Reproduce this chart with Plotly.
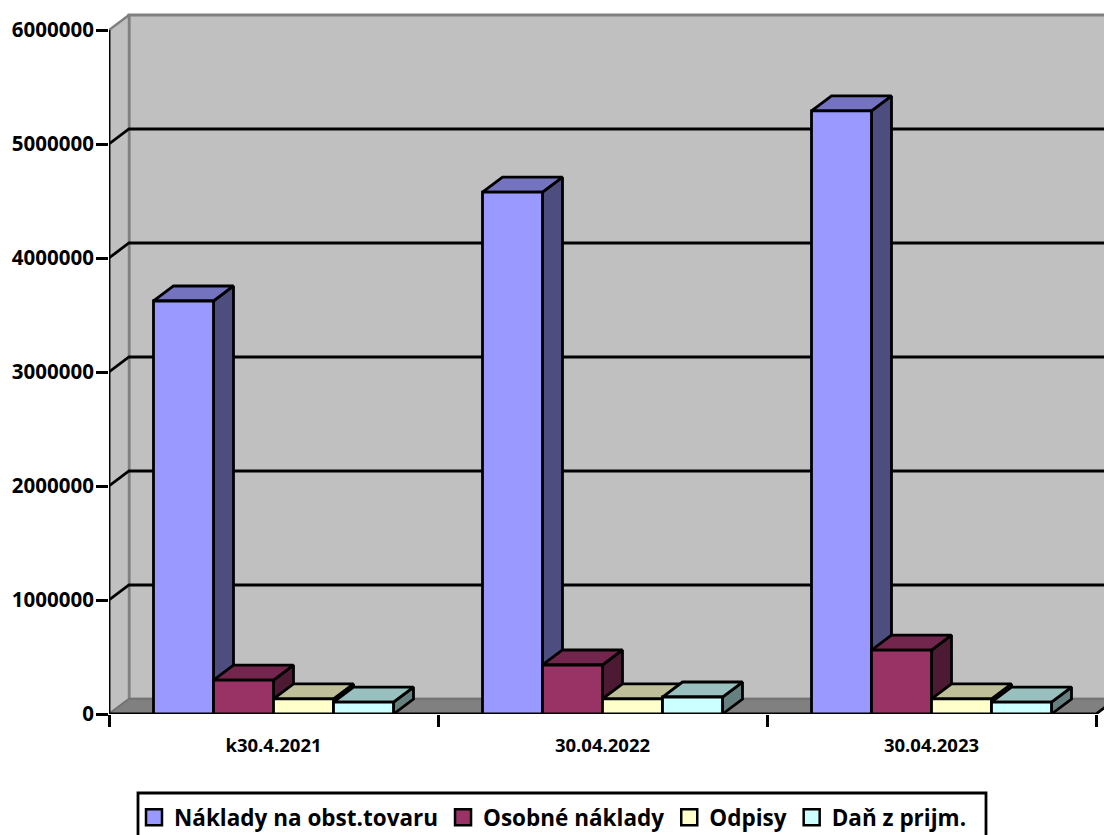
import plotly.graph_objects as go

categories = ["k30.4.2021", "30.04.2022", "30.04.2023"]
series_names = ["Náklady na obst.tovaru", "Osobné náklady", "Odpisy", "Daň z prijm."]
naklady = [3623000, 4577000, 5290000]
osobne = [298000, 430000, 561000]
odpisy = [132000, 132000, 132000]
dan = [105000, 149000, 105000]
y_ticks = [0, 1000000, 2000000, 3000000, 4000000, 5000000, 6000000]

series_values = [naklady, osobne, odpisy, dan]
front_colors = ["#9999FF", "#993366", "#FFFFCC", "#CCFFFF"]
top_colors = ["#7373BF", "#73264D", "#BFBF99", "#99BFBF"]
side_colors = ["#4D4D80", "#4D1A33", "#808066", "#668080"]

W, H = 1104, 835
L, T, B = 109, 10, 714
PX_CAT = 329.0
PX_Y = 114.0 / 1e6
X_MAX = (W - L) / PX_CAT
Y_MAX = (B - T) / PX_Y
DX = 20 / PX_CAT
DY = 15 / PX_Y
BAR_W = 60 / PX_CAT
GAP = 1 - 4 * BAR_W
LW = 2.8


def py(px):
    return (B - px) / (B - T)


def px_x(px):
    return (px - L) / (W - L)


fig = go.Figure()

# walls and floor
fig.add_trace(go.Scatter(x=[DX, 3 + DX + 1, 3 + DX + 1, DX, DX], y=[DY, DY, 6e6 + DY, 6e6 + DY, DY],
                         mode="lines", fill="toself", fillcolor="#C0C0C0",
                         line=dict(color="#808080", width=3), showlegend=False, hoverinfo="skip"))
fig.add_trace(go.Scatter(x=[0, DX, DX, 0, 0], y=[0, DY, 6e6 + DY, 6e6, 0],
                         mode="lines", fill="toself", fillcolor="#C0C0C0",
                         line=dict(color="#808080", width=2.5), showlegend=False, hoverinfo="skip",
                         cliponaxis=False))
fig.add_trace(go.Scatter(x=[0, 3, 3 + DX, DX, 0], y=[0, 0, DY, DY, 0],
                         mode="lines", fill="toself", fillcolor="#808080",
                         line=dict(color="#707070", width=1.5), showlegend=False, hoverinfo="skip"))

# gridlines on the walls
gx, gy = [], []
for v in y_ticks[1:-1]:
    gx += [0, DX, 3 + DX + 1, None]
    gy += [v, v + DY, v + DY, None]
fig.add_trace(go.Scatter(x=gx, y=gy, mode="lines", line=dict(color="black", width=LW),
                         showlegend=False, hoverinfo="skip"))

# axis lines and end diagonal
fig.add_trace(go.Scatter(x=[0, 0, None, 0, 3, 3 + DX], y=[0, 6e6, None, 0, 0, DY], mode="lines",
                         line=dict(color="black", width=LW), showlegend=False, hoverinfo="skip",
                         cliponaxis=False))

# 3D faces of each bar, derived from the values
for s, vals in enumerate(series_values):
    sx, sy, tx, ty = [], [], [], []
    for c, v in enumerate(vals):
        left = c + GAP / 2 + s * BAR_W
        right = left + BAR_W
        sx += [right, right + DX, right + DX, right, right, None]
        sy += [0, DY, v + DY, v, 0, None]
        tx += [left, left + DX, right + DX, right, left, None]
        ty += [v, v + DY, v + DY, v, v, None]
    for xs, ys, col in ((sx, sy, side_colors[s]), (tx, ty, top_colors[s])):
        fig.add_trace(go.Scatter(x=xs, y=ys, mode="lines", fill="toself", fillcolor=col,
                                 line=dict(color="black", width=LW), showlegend=False,
                                 hoverinfo="skip"))

# front faces on an overlaying subplot, so they sit above all side faces
for s, vals in enumerate(series_values):
    fig.add_trace(go.Bar(x=[0.5, 1.5, 2.5], y=vals, name=series_names[s], xaxis="x2", yaxis="y2",
                         marker=dict(color=front_colors[s], line=dict(color="black", width=LW)),
                         showlegend=False))

# legend entries
for s, name in enumerate(series_names):
    fig.add_trace(go.Scatter(x=[None], y=[None], mode="markers", name=name,
                             marker=dict(symbol="square", size=16, color=front_colors[s],
                                         line=dict(color="black", width=2.5))))

FONT = "Open Sans"
axis_common = dict(showgrid=False, zeroline=False)
fig.update_layout(
    width=W, height=H,
    margin=dict(l=L, r=0, t=T, b=H - B, autoexpand=False),
    paper_bgcolor="white", plot_bgcolor="white",
    barmode="group", bargap=GAP, bargroupgap=0,
    font=dict(family=FONT, color="black"),
    xaxis=dict(range=[0, X_MAX], tickvals=[0.5, 1.5, 2.5], ticktext=categories, ticks="",
               tickfont=dict(family=FONT, size=18.5, weight="bold"), ticklabelstandoff=18,
               minor=dict(tickvals=[0, 1, 2, 3], ticks="outside", ticklen=12, tickwidth=LW,
                          tickcolor="black"),
               **axis_common),
    yaxis=dict(range=[0, Y_MAX], tickvals=y_ticks, ticks="outside", ticklen=12, tickwidth=LW,
               tickcolor="black", tickformat="d", ticklabelstandoff=-2,
               tickfont=dict(family=FONT, size=20.5, weight="bold"),
               **axis_common),
    xaxis2=dict(range=[0, X_MAX], overlaying="x", anchor="y2", visible=False),
    yaxis2=dict(range=[0, Y_MAX], overlaying="y", anchor="x2", visible=False),
    legend=dict(orientation="h", x=px_x(134), y=py(796), xanchor="left", yanchor="top",
                font=dict(family=FONT, size=22.5, weight="bold"), bgcolor="rgba(0,0,0,0)",
                borderwidth=0, itemclick=False, itemdoubleclick=False),
    shapes=[dict(type="path", xref="paper", yref="paper",
                 path=f"M {px_x(138)},{py(845)} L {px_x(138)},{py(793)} L {px_x(986)},{py(793)} L {px_x(986)},{py(845)}",
                 line=dict(color="black", width=LW))],
)

fig.write_html("out.html", config={"displayModeBar": False},
               post_script="document.body.style.margin='0';document.body.style.overflow='hidden';")
